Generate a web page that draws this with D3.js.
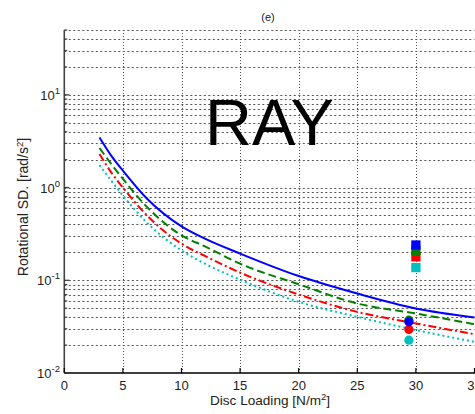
<!DOCTYPE html>
<html><head><meta charset="utf-8">
<script src="https://cdn.jsdelivr.net/npm/d3@7"></script>
<style>html,body{margin:0;padding:0;background:#fff;overflow:hidden}</style>
</head><body><svg id="c" width="475" height="414"></svg>
<script>
// ---- data ----
const discLoading = [3, 4, 5, 7, 10, 12, 15, 20, 25, 30, 35];
const blueSD  = [3.47, 2.21, 1.52, 0.77, 0.381, 0.281, 0.194, 0.111, 0.0719, 0.0496, 0.0397];
const greenSD = [2.67, 1.80, 1.24, 0.627, 0.305, 0.232, 0.151, 0.0906, 0.0561, 0.0438, 0.0336];
const redSD   = [2.30, 1.46, 1.00, 0.508, 0.248, 0.183, 0.121, 0.0702, 0.0456, 0.0342, 0.0262];
const cyanSD  = [1.75, 1.19, 0.82, 0.424, 0.21, 0.151, 0.1016, 0.0585, 0.0403, 0.029, 0.0217];
const squareX = 30;
const squareVals = {cyan: 0.137, red: 0.179, green: 0.209, blue: 0.240};
const circleX = 29.4;
const circleVals = {cyan: 0.0226, red: 0.0295, green: 0.0371, blue: 0.0356};
const xTicks = [0, 5, 10, 15, 20, 25, 30, 35];
const yMajorExp = [-2, -1, 0, 1];
const titleText = "(e)";
const watermark = "RAY";

const colors = {blue: "#0000ff", green: "#008000", red: "#ff0000", cyan: "#00bfbf"};
const font = "'Liberation Sans', Arial, Helvetica, sans-serif";

const svg = d3.select("#c");
const L = 64.3, R = 474.5, T = 30, B = 373;
const x = d3.scaleLinear().domain([0, 35]).range([L, R]);
const y = d3.scaleLog().domain([0.01, 50]).range([B, T]);

// grid
const gridY = [];
for (let e = -2; e <= 1; e++) for (let m = 1; m <= 9; m++) {
  const v = m * Math.pow(10, e);
  if (v > 0.01 && v <= 50 + 1e-9) gridY.push(v);
}
svg.append("g").selectAll("line").data(gridY).join("line")
  .attr("x1", L).attr("x2", R)
  .attr("y1", d => Math.round(y(d)) + 0.5).attr("y2", d => Math.round(y(d)) + 0.5)
  .attr("stroke", "#555").attr("stroke-width", 1).attr("stroke-dasharray", "2,2.5");
svg.append("g").selectAll("line").data(xTicks.filter(d => d > 0)).join("line")
  .attr("x1", d => Math.round(x(d)) + 0.5).attr("x2", d => Math.round(x(d)) + 0.5)
  .attr("y1", T).attr("y2", B)
  .attr("stroke", "#555").attr("stroke-width", 1).attr("stroke-dasharray", "1,2");

// curves
const line = d3.line().x(d => x(d[0])).y(d => y(d[1])).curve(d3.curveMonotoneX);
const series = [
  {vals: blueSD, c: colors.blue, dash: null},
  {vals: greenSD, c: colors.green, dash: "8,4"},
  {vals: redSD, c: colors.red, dash: "8,3,2,3"},
  {vals: cyanSD, c: colors.cyan, dash: "2,3"}
];
series.forEach(s => {
  svg.append("path").datum(discLoading.map((d, i) => [d, s.vals[i]]))
    .attr("d", line).attr("fill", "none").attr("stroke", s.c)
    .attr("stroke-width", 2).attr("stroke-dasharray", s.dash);
});

// markers (drawn cyan, red, green, blue)
const order = ["cyan", "red", "green", "blue"];
const sq = 9.3;
svg.append("g").selectAll("rect").data(order).join("rect")
  .attr("x", x(squareX) - sq / 2).attr("y", d => y(squareVals[d]) - sq / 2)
  .attr("width", sq).attr("height", sq).attr("fill", d => colors[d]);
svg.append("g").selectAll("circle").data(order).join("circle")
  .attr("cx", x(circleX)).attr("cy", d => y(circleVals[d]))
  .attr("r", 4.6).attr("fill", d => colors[d]);

// axes lines
svg.append("line").attr("x1", L).attr("x2", L).attr("y1", T).attr("y2", B)
  .attr("stroke", "#444").attr("stroke-width", 1.6);
svg.append("line").attr("x1", L).attr("x2", 475).attr("y1", B).attr("y2", B)
  .attr("stroke", "#000").attr("stroke-width", 1.6);

// x ticks
const xg = svg.append("g");
xg.selectAll("line").data(xTicks).join("line")
  .attr("x1", d => x(d)).attr("x2", d => x(d)).attr("y1", B).attr("y2", B - 5)
  .attr("stroke", "#000").attr("stroke-width", 1.2);
xg.selectAll("text").data(xTicks).join("text")
  .attr("x", d => x(d)).attr("y", 390).attr("text-anchor", "middle")
  .attr("font-family", font).attr("font-size", 13).attr("fill", "#222")
  .text(d => d);

// y ticks
const yg = svg.append("g");
yg.selectAll("line.minor").data(gridY.filter(v => Math.abs(Math.log10(v) - Math.round(Math.log10(v))) > 1e-6)).join("line")
  .attr("x1", L).attr("x2", L + 3).attr("y1", d => y(d)).attr("y2", d => y(d))
  .attr("stroke", "#333").attr("stroke-width", 1);
yg.selectAll("line.major").data(yMajorExp).join("line")
  .attr("x1", L).attr("x2", L + 5).attr("y1", d => y(Math.pow(10, d))).attr("y2", d => y(Math.pow(10, d)))
  .attr("stroke", "#333").attr("stroke-width", 1.2);
const yt = yg.selectAll("text").data(yMajorExp).join("text")
  .attr("x", 60).attr("y", d => y(Math.pow(10, d)) + 5).attr("text-anchor", "end")
  .attr("font-family", font).attr("font-size", 13).attr("fill", "#222");
yt.append("tspan").text("10");
yt.append("tspan").attr("dy", -6).attr("font-size", 9.5).text(d => d);

// title
svg.append("text").attr("x", 268).attr("y", 21).attr("text-anchor", "middle")
  .attr("font-family", font).attr("font-size", 11).attr("fill", "#222").text(titleText);

// watermark
svg.append("text").attr("x", 269.5).attr("y", 145).attr("text-anchor", "middle")
  .attr("font-family", font).attr("font-size", 65).attr("fill", "#000").text(watermark);

// x label
const xl = svg.append("text").attr("x", 270).attr("y", 405).attr("text-anchor", "middle")
  .attr("font-family", font).attr("font-size", 13.6).attr("fill", "#222");
xl.append("tspan").text("Disc Loading [N/m");
xl.append("tspan").attr("dy", -5).attr("font-size", 9.5).text("2");
xl.append("tspan").attr("dy", 5).text("]");

// y label
const yl = svg.append("text").attr("transform", "translate(28,207) rotate(-90)")
  .attr("text-anchor", "middle")
  .attr("font-family", font).attr("font-size", 14).attr("fill", "#222");
yl.append("tspan").text("Rotational SD. [rad/s");
yl.append("tspan").attr("dy", -5).attr("font-size", 9.5).text("2");
yl.append("tspan").attr("dy", 5).text("]");
</script></body></html>
